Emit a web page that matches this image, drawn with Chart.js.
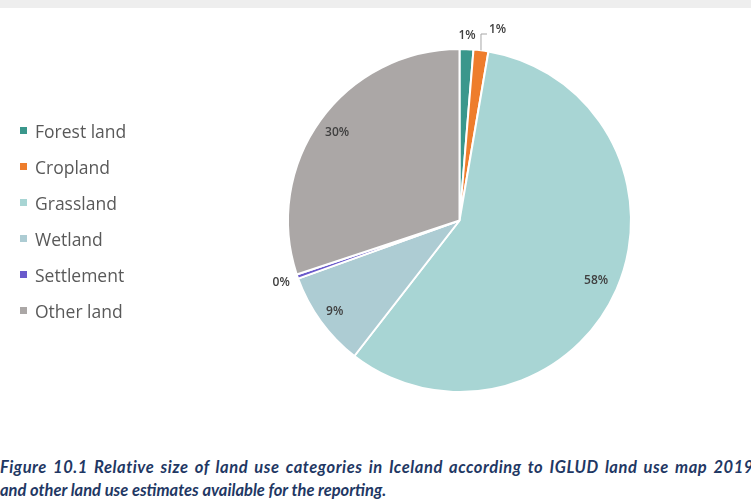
<!DOCTYPE html>
<html>
<head>
<meta charset="utf-8">
<script src="https://cdn.jsdelivr.net/npm/chart.js@4.4.0/dist/chart.umd.min.js"></script>
<style>
  html, body { margin: 0; padding: 0; background: #fff; width: 751px; height: 503px; overflow: hidden; }
  .topbar { position: absolute; left: 0; top: 0; width: 751px; height: 8px; background: #eeeeee; }
  .wrap { position: absolute; left: 0; top: 0; width: 751px; height: 440px; }
  .legend { position: absolute; left: 20px; top: 119px; font-family: "Open Sans", sans-serif; font-size: 17.5px; color: #595959; }
  .legend div { height: 36px; line-height: 24px; white-space: nowrap; }
  .legend span { display: inline-block; width: 7px; height: 7px; margin-right: 8px; vertical-align: 4px; }
  .caption { position: absolute; left: 0; top: 456px; width: 900px; font-family: Lato, sans-serif; font-style: italic; font-weight: bold;
             font-size: 16.5px; line-height: 23px; color: #1f3864; white-space: nowrap; }
  .caption .l1 { letter-spacing: 0.55px; word-spacing: 2px; }
</style>
</head>
<body>
<div class="topbar"></div>
<div class="wrap"><canvas id="landChart"></canvas></div>
<div class="legend" id="legend"></div>
<div class="caption"><span class="l1">Figure 10.1 Relative size of land use categories in Iceland according to IGLUD land use map 2019</span><br>and other land use estimates available for the reporting.</div>
<script>
const categories = ["Forest land", "Cropland", "Grassland", "Wetland", "Settlement", "Other land"];
const shares = [1.3, 1.4, 57.8, 9.0, 0.4, 30.1];
const sliceColors = ["#3a978c", "#ee7d2c", "#a8d5d4", "#adccd3", "#6a5acb", "#aba7a6"];

// legend
const legendEl = document.getElementById("legend");
categories.forEach((c, i) => {
  const row = document.createElement("div");
  row.innerHTML = '<span style="background:' + sliceColors[i] + '"></span>' + c;
  legendEl.appendChild(row);
});

const total = shares.reduce((a, b) => a + b, 0);

// where to put each percentage: inside at a fraction of radius, or outside
const labelPlacement = [
  { r: 1.08 },
  { r: 1.0, leader: true },
  { r: 0.87 },
  { r: 0.9 },
  { r: 1.1 },
  { r: 0.88 }
];

const pctLabels = {
  id: "pctLabels",
  afterDatasetsDraw(chart) {
    const ctx = chart.ctx;
    const meta = chart.getDatasetMeta(0);
    ctx.save();
    ctx.font = "600 12px 'Open Sans', sans-serif";
    ctx.fillStyle = "#404040";
    ctx.textAlign = "center";
    ctx.textBaseline = "middle";
    meta.data.forEach((arc, i) => {
      const p = arc.getProps(["x", "y", "startAngle", "endAngle", "outerRadius"], true);
      const mid = (p.startAngle + p.endAngle) / 2;
      const txt = Math.round(shares[i] / total * 100) + "%";
      const pl = labelPlacement[i];
      let x = p.x + Math.cos(mid) * p.outerRadius * pl.r;
      let y = p.y + Math.sin(mid) * p.outerRadius * pl.r;
      if (pl.leader) {
        const ly = p.y - p.outerRadius - 15;
        ctx.strokeStyle = "#a6a6a6";
        ctx.lineWidth = 1;
        ctx.beginPath();
        ctx.moveTo(x, y);
        ctx.lineTo(x, ly);
        ctx.lineTo(x + 6, ly);
        ctx.stroke();
        ctx.textAlign = "left";
        ctx.fillText(txt, x + 8, ly - 4);
        ctx.textAlign = "center";
      } else {
        ctx.fillText(txt, x, y);
      }
    });
    ctx.restore();
  }
};

new Chart(document.getElementById("landChart"), {
  type: "pie",
  data: {
    labels: categories,
    datasets: [{
      data: shares,
      backgroundColor: sliceColors,
      borderColor: "#ffffff",
      borderWidth: 2
    }]
  },
  options: {
    responsive: true,
    maintainAspectRatio: false,
    animation: false,
    layout: { padding: { top: 47, bottom: 46, left: 287, right: 119 } },
    plugins: {
      legend: { display: false },
      tooltip: { enabled: false }
    }
  },
  plugins: [pctLabels]
});
</script>
</body>
</html>
